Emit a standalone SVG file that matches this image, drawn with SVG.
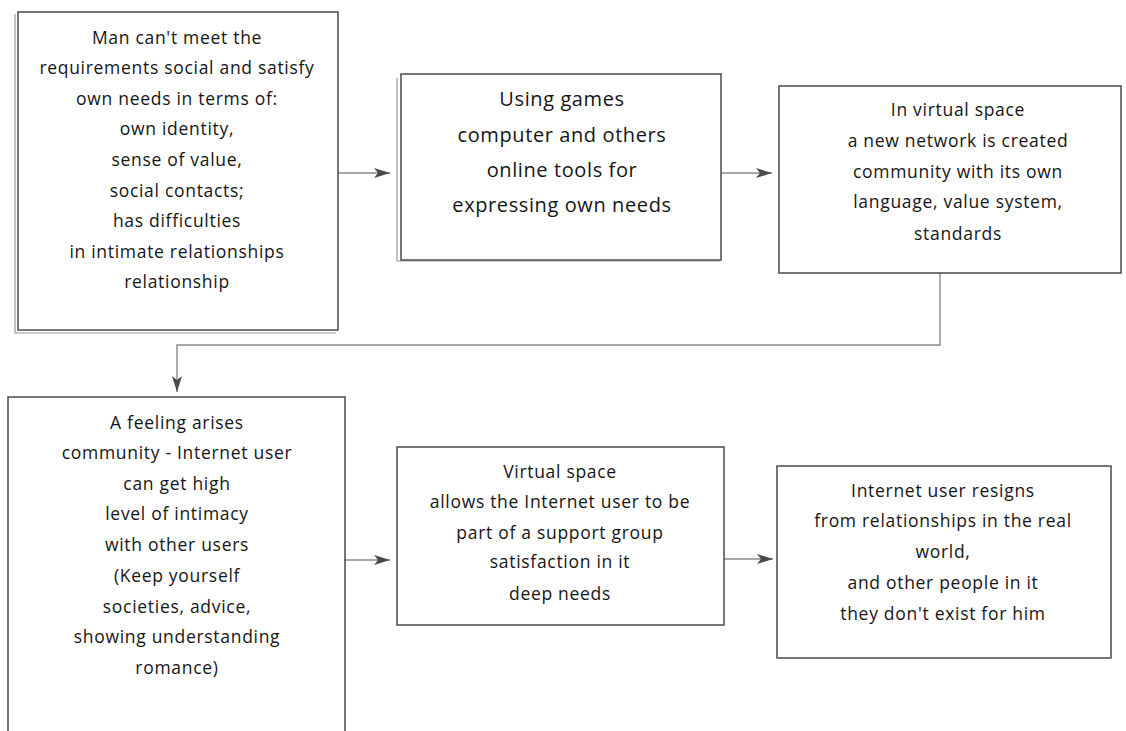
<svg xmlns="http://www.w3.org/2000/svg" width="1126" height="731" viewBox="0 0 1126 731">
<defs>
<style>
.box{fill:#fff;stroke:#4a4a4a;stroke-width:1.5}
.shadow{fill:none;stroke:#9a9a9a;stroke-width:1.2}
.t{font-family:"Open Sans","Liberation Sans",sans-serif;font-size:17.5px;letter-spacing:0.7px;fill:#151515;text-anchor:middle}
.t2{font-family:"Open Sans","Liberation Sans",sans-serif;font-size:20px;letter-spacing:0.6px;fill:#151515;text-anchor:middle}
.c{fill:none;stroke:#8a8a8a;stroke-width:1.4}
</style>
<marker id="ah" viewBox="0 0 16 10" refX="16" refY="5" markerWidth="16" markerHeight="10" markerUnits="userSpaceOnUse" orient="auto">
<path d="M0,0 L16,5 L0,10 L4,5 Z" fill="#4a4a4a"/>
</marker>
</defs>
<rect width="1126" height="731" fill="#fff"/>
<g id="connectors">
<line class="c" x1="338" y1="173" x2="390" y2="173" marker-end="url(#ah)"/>
<line class="c" x1="721" y1="173" x2="772" y2="173" marker-end="url(#ah)"/>
<polyline class="c" points="940,273 940,345 177,345 177,392" marker-end="url(#ah)"/>
<line class="c" x1="345" y1="560" x2="390" y2="560" marker-end="url(#ah)"/>
<line class="c" x1="724" y1="559" x2="773" y2="559" marker-end="url(#ah)"/>
</g>
<g id="node1">
<polyline class="shadow" points="15,14 15,333 336,333"/>
<rect class="box" x="18" y="12" width="320" height="318"/>
<text class="t" x="177" y="44">Man can't meet the</text>
<text class="t" x="177" y="74">requirements social and satisfy</text>
<text class="t" x="177" y="105">own needs in terms of:</text>
<text class="t" x="177" y="135">own identity,</text>
<text class="t" x="177" y="166">sense of value,</text>
<text class="t" x="177" y="197">social contacts;</text>
<text class="t" x="177" y="227">has difficulties</text>
<text class="t" x="177" y="258">in intimate relationships</text>
<text class="t" x="177" y="288">relationship</text>
</g>
<g id="node2">
<polyline class="shadow" points="397,78 397,261 720,261"/>
<rect class="box" x="401" y="74" width="320" height="186"/>
<text class="t2" x="562" y="106">Using games</text>
<text class="t2" x="562" y="142">computer and others</text>
<text class="t2" x="562" y="177">online tools for</text>
<text class="t2" x="562" y="212">expressing own needs</text>
</g>
<g id="node3">
<rect class="box" x="779" y="86" width="342" height="187"/>
<text class="t" x="958" y="116">In virtual space</text>
<text class="t" x="958" y="147">a new network is created</text>
<text class="t" x="958" y="178">community with its own</text>
<text class="t" x="958" y="208">language, value system,</text>
<text class="t" x="958" y="240">standards</text>
</g>
<g id="node4">
<rect class="box" x="8" y="397" width="337" height="345"/>
<text class="t" x="177" y="429">A feeling arises</text>
<text class="t" x="177" y="459">community - Internet user</text>
<text class="t" x="177" y="490">can get high</text>
<text class="t" x="177" y="520">level of intimacy</text>
<text class="t" x="177" y="551">with other users</text>
<text class="t" x="177" y="582">(Keep yourself</text>
<text class="t" x="177" y="613">societies, advice,</text>
<text class="t" x="177" y="643">showing understanding</text>
<text class="t" x="177" y="674">romance)</text>
</g>
<g id="node5">
<rect class="box" x="397" y="447" width="327" height="178"/>
<text class="t" x="560" y="478">Virtual space</text>
<text class="t" x="560" y="508">allows the Internet user to be</text>
<text class="t" x="560" y="539">part of a support group</text>
<text class="t" x="560" y="568">satisfaction in it</text>
<text class="t" x="560" y="600">deep needs</text>
</g>
<g id="node6">
<rect class="box" x="777" y="466" width="334" height="192"/>
<text class="t" x="943" y="497">Internet user resigns</text>
<text class="t" x="943" y="527">from relationships in the real</text>
<text class="t" x="943" y="558">world,</text>
<text class="t" x="943" y="589">and other people in it</text>
<text class="t" x="943" y="620">they don't exist for him</text>
</g>
</svg>
